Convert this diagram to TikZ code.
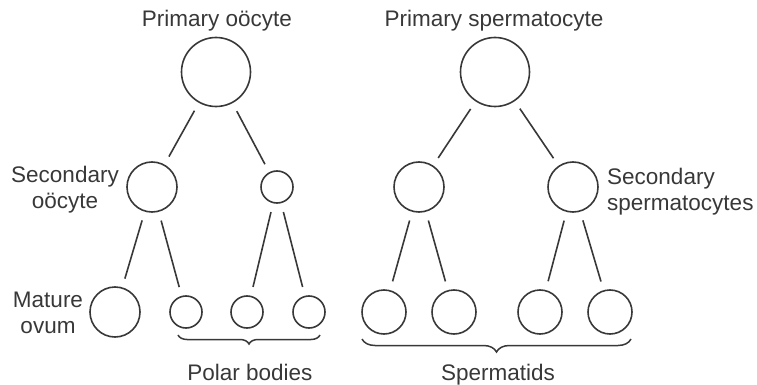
\documentclass[tikz,border=0pt]{standalone}
\usepackage{fontspec}
\setmainfont{Liberation Sans}
\usetikzlibrary{decorations.pathreplacing}
\definecolor{ink}{gray}{0.22}
\begin{document}
\begin{tikzpicture}[x=1pt,y=-1pt,
  cell/.style={circle,draw=ink,line width=1.6pt,inner sep=0pt},
  link/.style={draw=ink,line width=1.6pt,shorten <=9pt,shorten >=9pt},
  lbl/.style={text=ink,font=\fontsize{22.5}{25.5}\selectfont,inner sep=0pt},
  bracestyle/.style={draw=ink,line width=1.5pt,decorate}]
\useasboundingbox (0,0) rectangle (757,385);
% female
\node[cell,minimum size=69pt] (po) at (216,72) {};
\node[cell,minimum size=50pt] (so) at (152,187) {};
\node[cell,minimum size=32pt] (pb0) at (277,187) {};
\node[cell,minimum size=50pt] (ov) at (115,312) {};
\node[cell,minimum size=32pt] (pb1) at (186,312) {};
\node[cell,minimum size=32pt] (pb2) at (247,312) {};
\node[cell,minimum size=32pt] (pb3) at (309,312) {};
\draw[link] (po) -- (so);
\draw[link] (po) -- (pb0);
\draw[link] (so) -- (ov);
\draw[link] (so) -- (pb1);
\draw[link] (pb0) -- (pb2);
\draw[link] (pb0) -- (pb3);
% male
\node[cell,minimum size=69pt] (ps) at (495,72) {};
\node[cell,minimum size=50pt] (ss1) at (419,187) {};
\node[cell,minimum size=50pt] (ss2) at (573,187) {};
\node[cell,minimum size=44pt] (st1) at (384,312) {};
\node[cell,minimum size=44pt] (st2) at (454,312) {};
\node[cell,minimum size=44pt] (st3) at (540,312) {};
\node[cell,minimum size=44pt] (st4) at (610,312) {};
\draw[link] (ps) -- (ss1);
\draw[link] (ps) -- (ss2);
\draw[link] (ss1) -- (st1);
\draw[link] (ss1) -- (st2);
\draw[link] (ss2) -- (st3);
\draw[link] (ss2) -- (st4);
% braces
\coordinate (pbR) at (320,335);
\coordinate (pbL) at (178,335);
\draw[bracestyle,decoration={brace,amplitude=9pt}] (pbR) -- (pbL);
\coordinate (stR) at (631,339);
\coordinate (stL) at (362,339);
\draw[bracestyle,decoration={brace,amplitude=13pt}] (stR) -- (stL);
% labels
\node[lbl,anchor=base] (t1) at (217,27) {Primary oöcyte};
\node[lbl,anchor=base] (t2) at (494,27) {Primary spermatocyte};
\node[lbl,anchor=base,align=center] (t3) at (65,208) {Secondary\\oöcyte};
\node[lbl,anchor=base,align=center] (t4) at (48,333) {Mature\\ovum};
\node[lbl,anchor=base west,align=left] (t5) at (607,210) {Secondary\\spermatocytes};
\node[lbl,anchor=base] (t6) at (250,380) {Polar bodies};
\node[lbl,anchor=base] (t7) at (498,380) {Spermatids};
\end{tikzpicture}
\end{document}
